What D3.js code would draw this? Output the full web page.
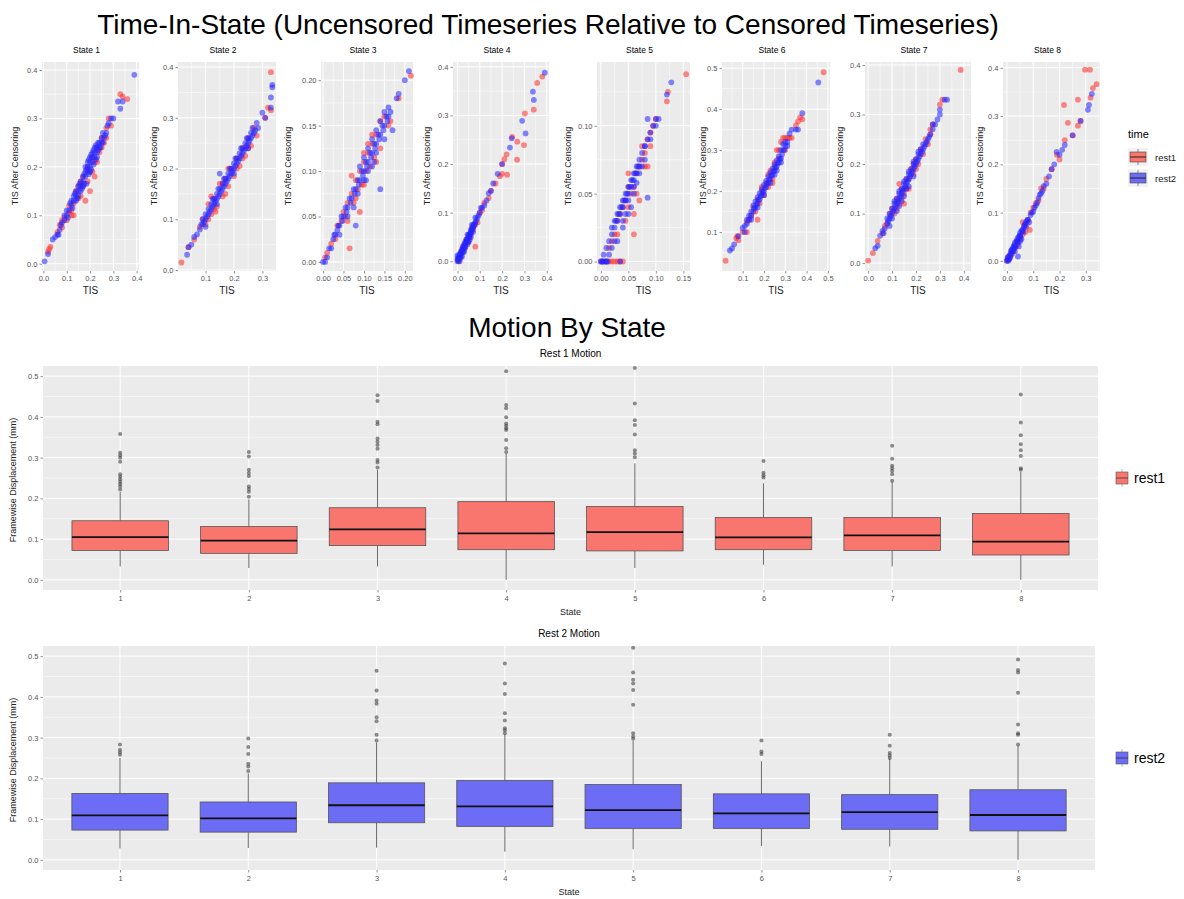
<!DOCTYPE html>
<html>
<head>
<meta charset="utf-8">
<script src="https://cdn.jsdelivr.net/npm/d3@7"></script>
<style>
  body { margin: 0; background: #fff; }
  svg { font-family: "Liberation Sans", Arial, sans-serif; }
</style>
</head>
<body>
<div id="chart"></div>
<script>
////////////////////////////////// DATA //////////////////////////////////
var stateNames = ["State 1", "State 2", "State 3", "State 4", "State 5", "State 6", "State 7", "State 8"];
var states = [1, 2, 3, 4, 5, 6, 7, 8];
var timeLabels = ["rest1", "rest2"];

// Time-in-state pairs: [TIS, TIS After Censoring]
var s1Rest1 = [[0.02,0.025],[0.025,0.03],[0.03,0.035],[0.06,0.065],[0.07,0.08],[0.08,0.075],[0.09,0.095],[0.1,0.09],[0.11,0.12],[0.12,0.11],[0.13,0.125],[0.14,0.15],[0.15,0.135],[0.16,0.17],[0.17,0.16],[0.18,0.13],[0.19,0.2],[0.2,0.15],[0.2,0.19],[0.21,0.22],[0.22,0.18],[0.22,0.21],[0.23,0.24],[0.24,0.23],[0.25,0.26],[0.26,0.25],[0.27,0.28],[0.28,0.3],[0.29,0.285],[0.33,0.35],[0.34,0.345],[0.36,0.34],[0.15,0.16],[0.17,0.18],[0.13,0.1],[0.11,0.105],
  [0.19,0.17],[0.21,0.19],[0.23,0.21],[0.16,0.14],[0.25,0.24],[0.27,0.26],[0.12,0.1],[0.08,0.09]];
var s1Rest2 = [[0.005,0.005],[0.02,0.02],[0.04,0.05],[0.05,0.055],[0.06,0.06],[0.07,0.07],[0.08,0.085],[0.09,0.09],[0.1,0.1],[0.1,0.11],[0.11,0.11],[0.12,0.12],[0.12,0.13],[0.13,0.13],[0.13,0.14],[0.14,0.14],[0.14,0.15],[0.15,0.15],[0.15,0.16],[0.16,0.16],[0.16,0.17],[0.17,0.17],[0.17,0.18],[0.18,0.18],[0.18,0.19],[0.18,0.2],[0.19,0.19],[0.19,0.2],[0.19,0.21],[0.2,0.2],[0.2,0.21],[0.2,0.22],[0.21,0.21],[0.21,0.22],[0.21,0.23],[0.22,0.22],[0.22,0.23],[0.22,0.24],[0.23,0.23],[0.23,0.24],[0.24,0.24],[0.24,0.25],[0.25,0.25],[0.25,0.26],[0.26,0.26],[0.27,0.27],[0.28,0.29],[0.29,0.3],[0.3,0.3],[0.32,0.335],[0.33,0.32],[0.34,0.335],[0.39,0.39],[0.16,0.15],[0.17,0.16],[0.2,0.19],[0.23,0.22],[0.15,0.14],[0.14,0.13],[0.185,0.165],
  [0.105,0.095],[0.115,0.125],[0.125,0.115],[0.135,0.145],[0.145,0.135],[0.155,0.165],[0.165,0.155],[0.175,0.185],[0.175,0.165],[0.185,0.195],[0.195,0.185],[0.195,0.215],[0.205,0.195],[0.205,0.225],[0.215,0.205],[0.215,0.235],[0.225,0.215],[0.225,0.245],[0.235,0.235],[0.235,0.25],[0.245,0.24],[0.255,0.25],[0.255,0.27],[0.265,0.265],[0.275,0.285],[0.09,0.1],[0.075,0.08],[0.065,0.06]];

var s2Rest1 = [[0.015,0.015],[0.04,0.045],[0.06,0.06],[0.08,0.085],[0.09,0.1],[0.1,0.09],[0.11,0.13],[0.12,0.11],[0.13,0.14],[0.14,0.125],[0.15,0.17],[0.16,0.145],[0.17,0.18],[0.18,0.165],[0.19,0.2],[0.2,0.185],[0.21,0.22],[0.22,0.205],[0.23,0.24],[0.24,0.225],[0.25,0.26],[0.26,0.245],[0.27,0.28],[0.28,0.265],[0.31,0.3],[0.32,0.32],[0.33,0.315],[0.33,0.39],[0.12,0.145],[0.135,0.115],[0.17,0.15],
  [0.16,0.17],[0.18,0.2],[0.21,0.2],[0.23,0.22],[0.25,0.24],[0.13,0.12],[0.11,0.1]];
var s2Rest2 = [[0.035,0.03],[0.04,0.045],[0.05,0.05],[0.06,0.065],[0.07,0.07],[0.08,0.08],[0.09,0.09],[0.09,0.1],[0.1,0.1],[0.1,0.11],[0.11,0.11],[0.11,0.12],[0.12,0.12],[0.12,0.13],[0.13,0.13],[0.13,0.14],[0.14,0.14],[0.14,0.15],[0.15,0.15],[0.15,0.16],[0.16,0.16],[0.16,0.17],[0.17,0.17],[0.17,0.18],[0.18,0.18],[0.18,0.19],[0.19,0.19],[0.19,0.2],[0.2,0.2],[0.2,0.21],[0.21,0.21],[0.21,0.22],[0.22,0.22],[0.22,0.23],[0.23,0.23],[0.23,0.24],[0.24,0.24],[0.24,0.25],[0.25,0.25],[0.25,0.26],[0.26,0.26],[0.26,0.27],[0.27,0.27],[0.28,0.29],[0.3,0.31],[0.31,0.3],[0.33,0.32],[0.33,0.34],[0.335,0.36],[0.335,0.365],[0.15,0.19],[0.1,0.085],[0.14,0.13],[0.2,0.19],[0.25,0.24],
  [0.105,0.105],[0.115,0.115],[0.125,0.125],[0.135,0.135],[0.145,0.145],[0.155,0.155],[0.165,0.165],[0.175,0.175],[0.185,0.185],[0.195,0.195],[0.205,0.205],[0.215,0.215],[0.225,0.225],[0.235,0.235],[0.245,0.245],[0.255,0.255],[0.265,0.265],[0.125,0.14],[0.145,0.16],[0.165,0.18],[0.185,0.2],[0.205,0.22],[0.225,0.24],[0.245,0.26],[0.265,0.28],[0.275,0.275],[0.285,0.28],[0.095,0.095],[0.085,0.09]];

var s3Rest1 = [[0.005,0.005],[0.01,0.01],[0.02,0.02],[0.03,0.025],[0.035,0.04],[0.045,0.045],[0.05,0.055],[0.055,0.05],[0.06,0.065],[0.065,0.015],[0.07,0.075],[0.075,0.065],[0.08,0.09],[0.085,0.08],[0.09,0.1],[0.095,0.085],[0.1,0.11],[0.105,0.1],[0.11,0.12],[0.115,0.105],[0.12,0.13],[0.125,0.115],[0.13,0.14],[0.14,0.125],[0.15,0.16],[0.16,0.15],[0.165,0.155],[0.185,0.18],[0.215,0.205],[0.07,0.095],[0.1,0.12],[0.09,0.055],[0.13,0.11],
  [0.11,0.13],[0.12,0.14],[0.14,0.155],[0.08,0.07],[0.1,0.085],[0.06,0.045]];
var s3Rest2 = [[0.0,0.0],[0.005,0.0],[0.01,0.005],[0.015,0.015],[0.02,0.015],[0.025,0.025],[0.03,0.03],[0.035,0.035],[0.04,0.04],[0.045,0.05],[0.05,0.05],[0.055,0.06],[0.06,0.06],[0.065,0.07],[0.07,0.07],[0.075,0.08],[0.08,0.08],[0.085,0.09],[0.09,0.09],[0.095,0.1],[0.1,0.1],[0.105,0.11],[0.11,0.11],[0.115,0.12],[0.12,0.12],[0.125,0.13],[0.13,0.13],[0.135,0.14],[0.14,0.14],[0.145,0.15],[0.15,0.15],[0.155,0.16],[0.16,0.16],[0.165,0.165],[0.18,0.18],[0.185,0.185],[0.2,0.2],[0.21,0.21],[0.14,0.08],[0.08,0.04],[0.17,0.145],[0.12,0.105],[0.1,0.09],[0.06,0.05],[0.04,0.03],[0.13,0.12],[0.15,0.135],[0.11,0.1],[0.075,0.06],
  [0.0275,0.03],[0.0375,0.04],[0.0475,0.045],[0.0575,0.055],[0.0675,0.065],[0.0775,0.075],[0.0875,0.085],[0.0975,0.095],[0.1075,0.105],[0.1175,0.115],[0.1275,0.125],[0.1375,0.135],[0.1475,0.145],[0.1575,0.155],[0.13,0.145],[0.14,0.155],[0.12,0.135],[0.11,0.125],[0.1,0.115],[0.09,0.105],[0.15,0.165],[0.16,0.17],[0.125,0.11],[0.105,0.09],[0.085,0.075]];

var s4Rest1 = [[0.005,0.0],[0.01,0.005],[0.02,0.02],[0.03,0.025],[0.04,0.045],[0.05,0.04],[0.06,0.055],[0.07,0.065],[0.08,0.03],[0.09,0.08],[0.1,0.1],[0.11,0.105],[0.12,0.12],[0.14,0.13],[0.15,0.145],[0.17,0.16],[0.19,0.175],[0.2,0.2],[0.21,0.21],[0.22,0.22],[0.223,0.178],[0.245,0.256],[0.268,0.246],[0.267,0.209],[0.298,0.239],[0.302,0.304],[0.342,0.312],[0.357,0.367],[0.38,0.38],[0.2,0.18],
  [0.035,0.03],[0.045,0.04],[0.055,0.05],[0.065,0.07],[0.08,0.075],[0.025,0.03]];
var s4Rest2 = [[0.0,0.0],[0.002,0.005],[0.005,0.005],[0.005,0.01],[0.01,0.01],[0.01,0.015],[0.015,0.015],[0.015,0.02],[0.02,0.02],[0.02,0.025],[0.025,0.025],[0.025,0.03],[0.03,0.03],[0.03,0.035],[0.035,0.035],[0.035,0.04],[0.04,0.04],[0.04,0.045],[0.045,0.045],[0.05,0.05],[0.05,0.055],[0.055,0.055],[0.06,0.06],[0.06,0.065],[0.065,0.065],[0.07,0.07],[0.07,0.075],[0.075,0.075],[0.08,0.08],[0.085,0.085],[0.09,0.09],[0.1,0.1],[0.11,0.11],[0.12,0.115],[0.13,0.125],[0.14,0.14],[0.15,0.145],[0.16,0.16],[0.18,0.18],[0.2,0.2],[0.235,0.234],[0.243,0.253],[0.29,0.289],[0.305,0.263],[0.338,0.349],[0.342,0.332],[0.391,0.388],[0.02,0.01],[0.03,0.02],[0.045,0.035],[0.055,0.045],
  [0.0,0.005],[0.003,0.002],[0.008,0.008],[0.012,0.012],[0.018,0.018],[0.022,0.022],[0.028,0.028],[0.032,0.032],[0.038,0.038],[0.042,0.042],[0.048,0.048],[0.052,0.052],[0.058,0.058],[0.062,0.062],[0.068,0.068],[0.072,0.072],[0.078,0.078],[0.01,0.0],[0.0,0.012],[0.015,0.008],[0.025,0.018],[0.035,0.028],[0.05,0.04],[0.06,0.05],[0.07,0.06],[0.045,0.055],[0.065,0.075],[0.08,0.09],[0.095,0.095],[0.105,0.11]];

var s5Rest1 = [[0.0,0.0],[0.01,0.0],[0.015,0.0],[0.02,0.0],[0.025,0.0],[0.03,0.0],[0.035,0.0],[0.04,0.0],[0.015,0.01],[0.02,0.015],[0.025,0.02],[0.03,0.03],[0.035,0.035],[0.04,0.04],[0.045,0.045],[0.05,0.04],[0.055,0.05],[0.06,0.055],[0.065,0.065],[0.07,0.07],[0.075,0.075],[0.08,0.08],[0.085,0.09],[0.09,0.095],[0.095,0.1],[0.1,0.105],[0.06,0.035],[0.07,0.045],[0.075,0.085],[0.06,0.02],[0.12,0.118],[0.122,0.125],[0.155,0.138],[0.085,0.07],[0.05,0.065],
  [0.045,0.03],[0.05,0.055],[0.065,0.05],[0.08,0.07],[0.09,0.085],[0.03,0.02]];
var s5Rest2 = [[0.0,0.0],[0.002,0.0],[0.005,0.0],[0.008,0.0],[0.01,0.0],[0.035,0.0],[0.005,0.005],[0.01,0.01],[0.015,0.015],[0.02,0.02],[0.02,0.025],[0.025,0.025],[0.025,0.03],[0.03,0.03],[0.03,0.035],[0.035,0.035],[0.035,0.04],[0.04,0.04],[0.04,0.045],[0.045,0.045],[0.045,0.05],[0.05,0.05],[0.05,0.055],[0.055,0.055],[0.055,0.06],[0.06,0.06],[0.06,0.065],[0.065,0.065],[0.065,0.07],[0.07,0.07],[0.07,0.075],[0.075,0.08],[0.08,0.085],[0.085,0.09],[0.09,0.095],[0.095,0.1],[0.1,0.1],[0.1,0.105],[0.105,0.105],[0.12,0.123],[0.128,0.132],[0.085,0.105],[0.08,0.085],[0.085,0.047],[0.03,0.015],[0.04,0.025],[0.05,0.035],[0.015,0.005],[0.06,0.05],
  [0.0275,0.03],[0.0325,0.035],[0.0375,0.04],[0.0425,0.045],[0.0475,0.05],[0.0525,0.055],[0.0575,0.06],[0.0625,0.065],[0.0675,0.07],[0.04,0.03],[0.05,0.045],[0.06,0.055],[0.065,0.058],[0.07,0.065],[0.075,0.07],[0.08,0.075],[0.09,0.09],[0.02,0.01],[0.025,0.015],[0.003,0.0],[0.012,0.0],[0.045,0.035],[0.055,0.04]];

var s6Rest1 = [[0.02,0.03],[0.07,0.085],[0.075,0.09],[0.08,0.08],[0.1,0.1],[0.12,0.125],[0.13,0.13],[0.14,0.14],[0.15,0.16],[0.16,0.15],[0.17,0.18],[0.18,0.17],[0.19,0.2],[0.2,0.19],[0.21,0.22],[0.22,0.21],[0.23,0.25],[0.24,0.23],[0.25,0.26],[0.26,0.3],[0.27,0.28],[0.28,0.32],[0.29,0.33],[0.3,0.3],[0.31,0.33],[0.32,0.33],[0.35,0.36],[0.36,0.37],[0.37,0.38],[0.38,0.375],[0.48,0.49],[0.12,0.1],[0.17,0.13],
  [0.25,0.27],[0.27,0.3],[0.22,0.24],[0.19,0.21],[0.24,0.22],[0.3,0.33],[0.33,0.33]];
var s6Rest2 = [[0.04,0.055],[0.05,0.06],[0.06,0.07],[0.08,0.09],[0.1,0.11],[0.11,0.115],[0.12,0.12],[0.13,0.14],[0.14,0.15],[0.15,0.15],[0.15,0.165],[0.16,0.16],[0.16,0.175],[0.17,0.17],[0.17,0.185],[0.18,0.18],[0.18,0.195],[0.19,0.19],[0.19,0.205],[0.2,0.2],[0.2,0.215],[0.21,0.21],[0.21,0.225],[0.22,0.22],[0.22,0.235],[0.23,0.23],[0.23,0.245],[0.24,0.24],[0.24,0.255],[0.25,0.25],[0.25,0.265],[0.26,0.26],[0.26,0.275],[0.27,0.27],[0.27,0.285],[0.28,0.28],[0.28,0.3],[0.29,0.3],[0.3,0.31],[0.3,0.32],[0.31,0.32],[0.32,0.34],[0.33,0.35],[0.35,0.35],[0.36,0.35],[0.38,0.39],[0.455,0.465],[0.14,0.13],[0.2,0.19],[0.26,0.25],
  [0.155,0.158],[0.165,0.168],[0.175,0.178],[0.185,0.188],[0.195,0.198],[0.205,0.208],[0.215,0.218],[0.225,0.228],[0.235,0.238],[0.245,0.248],[0.255,0.258],[0.265,0.268],[0.275,0.278],[0.285,0.29],[0.295,0.3],[0.13,0.13],[0.14,0.14],[0.12,0.13],[0.11,0.1],[0.17,0.16],[0.23,0.22],[0.25,0.24],[0.28,0.27],[0.29,0.315],[0.31,0.31]];

var s7Rest1 = [[0.0,0.005],[0.02,0.02],[0.04,0.045],[0.06,0.06],[0.07,0.075],[0.08,0.08],[0.1,0.11],[0.11,0.1],[0.12,0.13],[0.13,0.12],[0.14,0.15],[0.15,0.14],[0.16,0.17],[0.17,0.15],[0.18,0.19],[0.19,0.18],[0.2,0.21],[0.21,0.2],[0.22,0.23],[0.23,0.22],[0.24,0.25],[0.25,0.24],[0.26,0.27],[0.27,0.28],[0.3,0.32],[0.31,0.33],[0.387,0.39],[0.15,0.12],[0.13,0.16],
  [0.12,0.11],[0.14,0.13],[0.17,0.17],[0.19,0.2],[0.2,0.19],[0.26,0.26],[0.16,0.15],[0.09,0.1]];
var s7Rest2 = [[0.03,0.03],[0.04,0.035],[0.05,0.055],[0.06,0.065],[0.07,0.07],[0.08,0.08],[0.08,0.09],[0.09,0.09],[0.09,0.1],[0.1,0.1],[0.1,0.11],[0.11,0.11],[0.11,0.12],[0.12,0.12],[0.12,0.13],[0.13,0.13],[0.13,0.14],[0.14,0.14],[0.14,0.15],[0.15,0.15],[0.15,0.16],[0.16,0.16],[0.16,0.17],[0.17,0.17],[0.17,0.18],[0.18,0.18],[0.18,0.19],[0.19,0.19],[0.19,0.2],[0.2,0.2],[0.2,0.21],[0.21,0.21],[0.21,0.22],[0.22,0.22],[0.22,0.23],[0.23,0.23],[0.24,0.24],[0.25,0.25],[0.26,0.26],[0.27,0.27],[0.28,0.28],[0.29,0.29],[0.3,0.3],[0.32,0.33],[0.33,0.33],[0.09,0.075],[0.12,0.105],[0.14,0.125],[0.1,0.09],[0.16,0.15],
  [0.085,0.085],[0.095,0.095],[0.105,0.105],[0.115,0.115],[0.125,0.125],[0.135,0.135],[0.145,0.145],[0.155,0.155],[0.165,0.165],[0.175,0.175],[0.185,0.185],[0.195,0.195],[0.205,0.205],[0.215,0.215],[0.225,0.225],[0.235,0.235],[0.245,0.245],[0.255,0.255],[0.11,0.125],[0.13,0.145],[0.15,0.165],[0.17,0.185],[0.19,0.205],[0.21,0.225],[0.13,0.115],[0.15,0.135],[0.17,0.155],[0.19,0.175],[0.23,0.24],[0.27,0.28],[0.3,0.31],[0.065,0.06]];

var s8Rest1 = [[0.0,0.0],[0.005,0.005],[0.01,0.01],[0.015,0.01],[0.02,0.02],[0.025,0.02],[0.03,0.03],[0.04,0.035],[0.05,0.05],[0.06,0.055],[0.07,0.06],[0.06,0.08],[0.08,0.085],[0.087,0.064],[0.09,0.1],[0.1,0.11],[0.12,0.125],[0.13,0.15],[0.15,0.17],[0.17,0.19],[0.19,0.22],[0.2,0.21],[0.22,0.25],[0.232,0.286],[0.217,0.323],[0.25,0.26],[0.27,0.28],[0.28,0.29],[0.27,0.334],[0.318,0.338],[0.327,0.358],[0.341,0.366],[0.297,0.396],[0.316,0.396],
  [0.035,0.03],[0.045,0.045],[0.065,0.07],[0.075,0.075],[0.11,0.12],[0.14,0.15]];
var s8Rest2 = [[0.0,0.0],[0.002,0.003],[0.005,0.0],[0.005,0.008],[0.01,0.005],[0.01,0.012],[0.015,0.015],[0.015,0.02],[0.02,0.015],[0.02,0.025],[0.025,0.025],[0.025,0.03],[0.03,0.03],[0.03,0.037],[0.035,0.04],[0.04,0.04],[0.04,0.047],[0.045,0.05],[0.05,0.052],[0.05,0.058],[0.055,0.062],[0.06,0.065],[0.065,0.072],[0.07,0.078],[0.075,0.082],[0.08,0.085],[0.09,0.095],[0.1,0.102],[0.11,0.115],[0.125,0.137],[0.13,0.14],[0.14,0.155],[0.15,0.16],[0.17,0.19],[0.18,0.2],[0.189,0.226],[0.2,0.22],[0.21,0.23],[0.22,0.24],[0.25,0.26],[0.28,0.29],[0.308,0.313],[0.312,0.323],[0.323,0.346],[0.042,0.009],[0.03,0.02],[0.05,0.04],
  [0.003,0.007],[0.008,0.003],[0.012,0.008],[0.018,0.022],[0.022,0.02],[0.028,0.032],[0.032,0.028],[0.038,0.042],[0.042,0.038],[0.048,0.052],[0.052,0.048],[0.058,0.062],[0.062,0.06],[0.068,0.075],[0.072,0.07],[0.078,0.085],[0.085,0.08],[0.095,0.1],[0.105,0.11],[0.115,0.12],[0.12,0.13],[0.135,0.145],[0.16,0.175],[0.045,0.03],[0.055,0.045]];

var tisRest1 = [s1Rest1, s2Rest1, s3Rest1, s4Rest1, s5Rest1, s6Rest1, s7Rest1, s8Rest1];
var tisRest2 = [s1Rest2, s2Rest2, s3Rest2, s4Rest2, s5Rest2, s6Rest2, s7Rest2, s8Rest2];

// free scales per facet and tick steps
var tisXDomains = [[-0.006,0.41],[0.003,0.348],[-0.005,0.22],[-0.02,0.41],[-0.007,0.162],[0.003,0.51],[-0.013,0.43],[-0.015,0.354]];
var tisYDomains = [[-0.015,0.4165],[-0.002,0.41],[-0.01,0.22],[-0.02,0.41],[-0.007,0.147],[0.005,0.515],[-0.016,0.406],[-0.021,0.412]];
var tisXStep = [0.1, 0.1, 0.05, 0.1, 0.05, 0.1, 0.1, 0.1];
var tisYStep = [0.1, 0.1, 0.05, 0.1, 0.05, 0.1, 0.1, 0.1];

// Framewise displacement box stats per state
var r1Low = [0.033, 0.029, 0.033, 0.0, 0.029, 0.037, 0.033, 0.0];
var r1Q1 = [0.072, 0.065, 0.084, 0.074, 0.071, 0.074, 0.072, 0.061];
var r1Median = [0.105, 0.096, 0.124, 0.114, 0.117, 0.104, 0.109, 0.094];
var r1Q3 = [0.145, 0.131, 0.177, 0.192, 0.18, 0.153, 0.153, 0.163];
var r1High = [0.216, 0.197, 0.27, 0.31, 0.286, 0.237, 0.24, 0.265];
var r1Outliers = [
  [0.222,0.229,0.235,0.241,0.247,0.253,0.259,0.29,0.3,0.306,0.312,0.358],
  [0.204,0.216,0.223,0.229,0.255,0.262,0.27,0.303,0.314],
  [0.276,0.288,0.294,0.322,0.331,0.339,0.347,0.382,0.388,0.439,0.453],
  [0.314,0.323,0.343,0.368,0.372,0.378,0.384,0.399,0.421,0.429,0.512],
  [0.301,0.31,0.318,0.357,0.38,0.392,0.433,0.52],
  [0.251,0.257,0.263,0.292],
  [0.243,0.259,0.267,0.274,0.28,0.297,0.329],
  [0.27,0.274,0.304,0.318,0.333,0.355,0.386,0.455]
];

var r2Low = [0.028, 0.029, 0.03, 0.02, 0.026, 0.034, 0.033, 0.0];
var r2Q1 = [0.073, 0.068, 0.091, 0.082, 0.077, 0.077, 0.075, 0.071];
var r2Median = [0.109, 0.102, 0.134, 0.131, 0.122, 0.114, 0.117, 0.11];
var r2Q3 = [0.163, 0.142, 0.189, 0.195, 0.185, 0.162, 0.16, 0.172];
var r2High = [0.25, 0.212, 0.288, 0.308, 0.292, 0.242, 0.248, 0.28];
var r2Outliers = [
  [0.258,0.264,0.27,0.283],
  [0.218,0.229,0.236,0.26,0.277,0.298],
  [0.293,0.307,0.34,0.35,0.383,0.391,0.416,0.464],
  [0.311,0.318,0.323,0.342,0.36,0.407,0.433,0.482],
  [0.297,0.303,0.311,0.381,0.417,0.433,0.442,0.46,0.521],
  [0.26,0.266,0.293],
  [0.25,0.256,0.262,0.28,0.307],
  [0.283,0.307,0.311,0.332,0.41,0.46,0.466,0.492]
];
var fdTicks = [0.0, 0.1, 0.2, 0.3, 0.4, 0.5];

////////////////////////////////// D3 //////////////////////////////////
var width = 1184;
var height = 899;

var svg = d3.select('#chart')
  .append('svg')
  .attr('width', width)
  .attr('height', height);

svg.append('rect')
  .attr('width', width)
  .attr('height', height)
  .attr('fill', '#fff');

// Settings
var panelBg = '#ebebeb';
var tickText = '#555';
var pointRed = '#ff2b2b';
var pointBlue = '#2424ff';
var boxRed = '#f8766d';
var boxBlue = '#6c6cf5';
var pointR = 2.9;

function stepTicks(domain, step) {
  var out = [];
  for (var k = Math.ceil(domain[0] / step - 1e-9); k <= Math.floor(domain[1] / step + 1e-9); k++) {
    out.push(+(k * step).toFixed(4));
  }
  return out;
}

function minorTicks(major, step, domain) {
  var out = major.map(function(d) { return d - step / 2 });
  out.push(major[major.length - 1] + step / 2);
  return out.filter(function(d) { return d > domain[0] && d < domain[1] });
}

function styleAxis(g, size) {
  g.select('.domain').remove();
  g.selectAll('.tick line').attr('stroke', '#444').attr('stroke-width', 0.6);
  g.selectAll('.tick text').attr('fill', tickText).attr('font-size', size);
}

// Main titles
svg.append('text')
  .attr('x', 548).attr('y', 34)
  .attr('text-anchor', 'middle')
  .attr('font-size', 28)
  .text('Time-In-State (Uncensored Timeseries Relative to Censored Timeseries)');

svg.append('text')
  .attr('x', 567).attr('y', 337)
  .attr('text-anchor', 'middle')
  .attr('font-size', 28)
  .text('Motion By State');

/////////// Scatter facets
var panelLeft = [42, 178, 321, 453, 597, 722, 865, 1003];
var panelRight = [139, 276, 413, 549, 690, 830, 971, 1100];
var yLabelX = [15, 154, 288, 427, 568, 703, 840, 980];
var panelTop = 62;
var panelBottom = 271;

stateNames.forEach(function(name, i) {
  var x = d3.scaleLinear().domain(tisXDomains[i]).range([panelLeft[i], panelRight[i]]);
  var y = d3.scaleLinear().domain(tisYDomains[i]).range([panelBottom, panelTop]);
  var xMajor = stepTicks(tisXDomains[i], tisXStep[i]);
  var yMajor = stepTicks(tisYDomains[i], tisYStep[i]);
  var xFmt = d3.format(tisXStep[i] < 0.1 ? '.2f' : '.1f');
  var yFmt = d3.format(tisYStep[i] < 0.1 ? '.2f' : '.1f');

  var g = svg.append('g');

  g.append('rect')
    .attr('x', panelLeft[i]).attr('y', panelTop)
    .attr('width', panelRight[i] - panelLeft[i])
    .attr('height', panelBottom - panelTop)
    .attr('fill', panelBg);

  // grid, minor then major
  g.selectAll('.vmin').data(minorTicks(xMajor, tisXStep[i], tisXDomains[i])).enter()
    .append('line')
    .attr('x1', function(d) { return x(d) }).attr('x2', function(d) { return x(d) })
    .attr('y1', panelTop).attr('y2', panelBottom)
    .attr('stroke', '#fff').attr('stroke-width', 0.5);
  g.selectAll('.hmin').data(minorTicks(yMajor, tisYStep[i], tisYDomains[i])).enter()
    .append('line')
    .attr('y1', function(d) { return y(d) }).attr('y2', function(d) { return y(d) })
    .attr('x1', panelLeft[i]).attr('x2', panelRight[i])
    .attr('stroke', '#fff').attr('stroke-width', 0.5);
  g.selectAll('.vmaj').data(xMajor).enter()
    .append('line')
    .attr('x1', function(d) { return x(d) }).attr('x2', function(d) { return x(d) })
    .attr('y1', panelTop).attr('y2', panelBottom)
    .attr('stroke', '#fff').attr('stroke-width', 1);
  g.selectAll('.hmaj').data(yMajor).enter()
    .append('line')
    .attr('y1', function(d) { return y(d) }).attr('y2', function(d) { return y(d) })
    .attr('x1', panelLeft[i]).attr('x2', panelRight[i])
    .attr('stroke', '#fff').attr('stroke-width', 1);

  // points
  g.selectAll('.p1').data(tisRest1[i]).enter()
    .append('circle')
    .attr('cx', function(d) { return x(d[0]) })
    .attr('cy', function(d) { return y(d[1]) })
    .attr('r', pointR)
    .attr('fill', pointRed)
    .attr('fill-opacity', 0.55);
  g.selectAll('.p2').data(tisRest2[i]).enter()
    .append('circle')
    .attr('cx', function(d) { return x(d[0]) })
    .attr('cy', function(d) { return y(d[1]) })
    .attr('r', pointR)
    .attr('fill', pointBlue)
    .attr('fill-opacity', 0.55);

  // axes
  g.append('g')
    .attr('transform', 'translate(0,' + panelBottom + ')')
    .call(d3.axisBottom(x).tickValues(xMajor).tickFormat(xFmt).tickSize(2.5).tickPadding(2))
    .call(styleAxis, 7.5);
  g.append('g')
    .attr('transform', 'translate(' + panelLeft[i] + ',0)')
    .call(d3.axisLeft(y).tickValues(yMajor).tickFormat(yFmt).tickSize(2.5).tickPadding(2))
    .call(styleAxis, 7.5);

  // labels
  g.append('text')
    .attr('x', (panelLeft[i] + panelRight[i]) / 2 - 4).attr('y', 53)
    .attr('text-anchor', 'middle')
    .attr('font-size', 8.5)
    .text(name);
  g.append('text')
    .attr('x', (panelLeft[i] + panelRight[i]) / 2).attr('y', 294)
    .attr('text-anchor', 'middle')
    .attr('font-size', 10)
    .attr('fill', '#222')
    .text('TIS');
  g.append('text')
    .attr('transform', 'translate(' + (yLabelX[i] + 3) + ',' + 166 + ') rotate(-90)')
    .attr('text-anchor', 'middle')
    .attr('font-size', 9)
    .attr('fill', '#222')
    .text('TIS After Censoring');
});

// top legend
var legendTop = svg.append('g');
legendTop.append('text')
  .attr('x', 1128).attr('y', 138)
  .attr('font-size', 11)
  .text('time');
timeLabels.forEach(function(lab, j) {
  var ky = 148 + j * 21;
  legendTop.append('rect')
    .attr('x', 1128).attr('y', ky).attr('width', 20).attr('height', 18)
    .attr('fill', '#f2f2f2');
  legendTop.append('line')
    .attr('x1', 1138).attr('x2', 1138).attr('y1', ky + 1).attr('y2', ky + 17)
    .attr('stroke', '#444').attr('stroke-width', 0.6);
  legendTop.append('rect')
    .attr('x', 1130).attr('y', ky + 4).attr('width', 16).attr('height', 10)
    .attr('fill', j === 0 ? boxRed : boxBlue)
    .attr('stroke', '#444').attr('stroke-width', 0.6);
  legendTop.append('line')
    .attr('x1', 1130).attr('x2', 1146).attr('y1', ky + 9).attr('y2', ky + 9)
    .attr('stroke', '#222').attr('stroke-width', 1);
  legendTop.append('text')
    .attr('x', 1155).attr('y', ky + 12.5)
    .attr('font-size', 9.5)
    .attr('fill', '#222')
    .text(lab);
});

/////////// Motion box plots
function drawBoxPanel(top, bottom, right, title, low, q1, med, q3, high, outliers, fill, label) {
  var left = 43;
  var x = d3.scaleLinear().domain([0.4, 8.6]).range([left, right]);
  var y = d3.scaleLinear().domain([-0.025, 0.525]).range([bottom, top]);
  var bw = 0.75;
  var g = svg.append('g');

  g.append('rect')
    .attr('x', left).attr('y', top)
    .attr('width', right - left).attr('height', bottom - top)
    .attr('fill', panelBg);

  g.selectAll('.hmin').data(minorTicks(fdTicks, 0.1, y.domain())).enter()
    .append('line')
    .attr('x1', left).attr('x2', right)
    .attr('y1', function(d) { return y(d) }).attr('y2', function(d) { return y(d) })
    .attr('stroke', '#fff').attr('stroke-width', 0.5);
  g.selectAll('.hmaj').data(fdTicks).enter()
    .append('line')
    .attr('x1', left).attr('x2', right)
    .attr('y1', function(d) { return y(d) }).attr('y2', function(d) { return y(d) })
    .attr('stroke', '#fff').attr('stroke-width', 1);
  g.selectAll('.vmaj').data(states).enter()
    .append('line')
    .attr('x1', function(d) { return x(d) }).attr('x2', function(d) { return x(d) })
    .attr('y1', top).attr('y2', bottom)
    .attr('stroke', '#fff').attr('stroke-width', 1);

  var boxes = g.selectAll('.box').data(states).enter().append('g');

  // whiskers
  boxes.append('line')
    .attr('x1', function(d) { return x(d) }).attr('x2', function(d) { return x(d) })
    .attr('y1', function(d, i) { return y(high[i]) })
    .attr('y2', function(d, i) { return y(q3[i]) })
    .attr('stroke', '#444').attr('stroke-width', 0.8);
  boxes.append('line')
    .attr('x1', function(d) { return x(d) }).attr('x2', function(d) { return x(d) })
    .attr('y1', function(d, i) { return y(q1[i]) })
    .attr('y2', function(d, i) { return y(low[i]) })
    .attr('stroke', '#444').attr('stroke-width', 0.8);

  // outliers
  boxes.each(function(d, i) {
    d3.select(this).selectAll('circle').data(outliers[i]).enter()
      .append('circle')
      .attr('cx', x(d))
      .attr('cy', function(v) { return y(v) })
      .attr('r', 2)
      .attr('fill', '#333')
      .attr('fill-opacity', 0.55);
  });

  boxes.append('rect')
    .attr('x', function(d) { return x(d - bw / 2) })
    .attr('width', function(d) { return x(d + bw / 2) - x(d - bw / 2) })
    .attr('y', function(d, i) { return y(q3[i]) })
    .attr('height', function(d, i) { return y(q1[i]) - y(q3[i]) })
    .attr('fill', fill)
    .attr('stroke', '#555').attr('stroke-width', 0.8);
  boxes.append('line')
    .attr('x1', function(d) { return x(d - bw / 2) })
    .attr('x2', function(d) { return x(d + bw / 2) })
    .attr('y1', function(d, i) { return y(med[i]) })
    .attr('y2', function(d, i) { return y(med[i]) })
    .attr('stroke', '#111').attr('stroke-width', 1.8);

  g.append('g')
    .attr('transform', 'translate(0,' + bottom + ')')
    .call(d3.axisBottom(x).tickValues(states).tickFormat(d3.format('d')).tickSize(2.5).tickPadding(3))
    .call(styleAxis, 7.5);
  g.append('g')
    .attr('transform', 'translate(' + left + ',0)')
    .call(d3.axisLeft(y).tickValues(fdTicks).tickFormat(d3.format('.1f')).tickSize(2.5).tickPadding(2))
    .call(styleAxis, 7.5);

  g.append('text')
    .attr('x', (left + right) / 2).attr('y', top - 9)
    .attr('text-anchor', 'middle')
    .attr('font-size', 10)
    .text(title);
  g.append('text')
    .attr('x', (left + right) / 2).attr('y', bottom + 25)
    .attr('text-anchor', 'middle')
    .attr('font-size', 9)
    .attr('fill', '#222')
    .text('State');
  g.append('text')
    .attr('transform', 'translate(16,' + ((top + bottom) / 2 + 2) + ') rotate(-90)')
    .attr('text-anchor', 'middle')
    .attr('font-size', 9)
    .attr('fill', '#222')
    .text('Framewise Displacement (mm)');

  // legend
  var ly = (top + bottom) / 2;
  g.append('line')
    .attr('x1', 1122).attr('x2', 1122).attr('y1', ly - 9).attr('y2', ly + 9)
    .attr('stroke', '#888').attr('stroke-width', 0.6);
  g.append('rect')
    .attr('x', 1116).attr('y', ly - 6).attr('width', 12).attr('height', 12)
    .attr('fill', fill).attr('stroke', '#555').attr('stroke-width', 0.6);
  g.append('line')
    .attr('x1', 1116).attr('x2', 1128).attr('y1', ly).attr('y2', ly)
    .attr('stroke', '#333').attr('stroke-width', 0.8);
  g.append('text')
    .attr('x', 1134).attr('y', ly + 5)
    .attr('font-size', 14)
    .text(label);
}

drawBoxPanel(366, 590, 1098, 'Rest 1 Motion', r1Low, r1Q1, r1Median, r1Q3, r1High, r1Outliers, boxRed, 'rest1');
drawBoxPanel(646, 870, 1095, 'Rest 2 Motion', r2Low, r2Q1, r2Median, r2Q3, r2High, r2Outliers, boxBlue, 'rest2');
////////////////////////////////// D3 - END //////////////////////////////////
</script>
</body>
</html>
